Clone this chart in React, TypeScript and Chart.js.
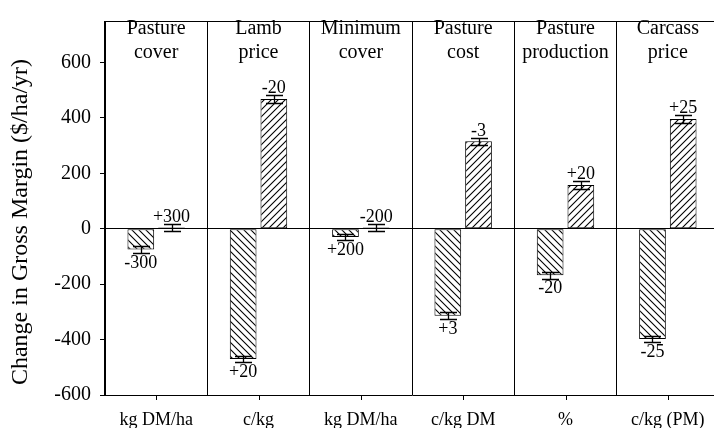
import React, { useEffect, useRef } from "react";
import { Chart, registerables } from "chart.js";
Chart.register(...registerables);

const categories = ["kg DM/ha", "c/kg", "kg DM/ha", "c/kg DM", "%", "c/kg (PM)"];
const panelTitles = [
  ["Pasture", "cover"],
  ["Lamb", "price"],
  ["Minimum", "cover"],
  ["Pasture", "cost"],
  ["Pasture", "production"],
  ["Carcass", "price"],
];
const lowValues = [-75, -470, -30, -314, -168, -398];
const highValues = [5, 468, 5, 316, 158, 396];
const lowErrors = [13, 12, 12, 12, 12, 12];
const highErrors = [12, 14, 12, 13, 13, 13];
const lowLabels = ["-300", "+20", "+200", "+3", "-20", "-25"];
const highLabels = ["+300", "-20", "-200", "-3", "+20", "+25"];
const yTickValues = [-600, -400, -200, 0, 200, 400, 600];
const yMin = -600;
const yMax = 750;
const yTitle = "Change in Gross Margin ($/ha/yr)";

const FONT = "'Liberation Serif', 'Times New Roman', serif";

function makeHatch(dir: string, ctx: CanvasRenderingContext2D) {
  const s = 7;
  const c = document.createElement("canvas");
  c.width = s;
  c.height = s;
  const g = c.getContext("2d")!;
  g.fillStyle = "#fff";
  g.fillRect(0, 0, s, s);
  g.strokeStyle = "#000";
  g.lineWidth = 1.1;
  g.beginPath();
  if (dir === "/") {
    g.moveTo(0, s); g.lineTo(s, 0);
    g.moveTo(-1, 1); g.lineTo(1, -1);
    g.moveTo(s - 1, s + 1); g.lineTo(s + 1, s - 1);
  } else {
    g.moveTo(0, 0); g.lineTo(s, s);
    g.moveTo(-1, s - 1); g.lineTo(1, s + 1);
    g.moveTo(s - 1, -1); g.lineTo(s + 1, 1);
  }
  g.stroke();
  return ctx.createPattern(c, "repeat")!;
}

const overlayPlugin = {
  id: "overlay",
  afterDatasetsDraw(chart: any) {
    const { ctx, chartArea, scales } = chart;
    const y = scales.y;
    const x = scales.x;
    ctx.save();
    ctx.strokeStyle = "#000";
    ctx.fillStyle = "#000";
    ctx.lineWidth = 1;
    // top frame line
    ctx.beginPath();
    ctx.moveTo(chartArea.left, chartArea.top + 0.5);
    ctx.lineTo(chartArea.right, chartArea.top + 0.5);
    ctx.stroke();
    // category center ticks
    for (let i = 0; i < categories.length; i++) {
      const cx = Math.round(x.getPixelForValue(i)) + 0.5;
      ctx.beginPath();
      ctx.moveTo(cx, chartArea.bottom);
      ctx.lineTo(cx, chartArea.bottom + 5);
      ctx.stroke();
    }
    // panel titles
    ctx.font = `20px ${FONT}`;
    ctx.textAlign = "center";
    ctx.textBaseline = "alphabetic";
    panelTitles.forEach((lines, i) => {
      const cx = x.getPixelForValue(i);
      lines.forEach((t, k) => ctx.fillText(t, cx, 34 + k * 23.5));
    });
    // error bars and value labels
    const sets = [
      { vals: lowValues, errs: lowErrors, labels: lowLabels },
      { vals: highValues, errs: highErrors, labels: highLabels },
    ];
    ctx.font = `18px ${FONT}`;
    sets.forEach((s, di) => {
      const meta = chart.getDatasetMeta(di);
      meta.data.forEach((el: any, j: number) => {
        const bx = Math.round(el.x) + 0.5;
        const v = s.vals[j];
        const e = s.errs[j];
        const yTop = y.getPixelForValue(v + e);
        const yBot = y.getPixelForValue(v - e);
        ctx.beginPath();
        ctx.moveTo(bx, yTop);
        ctx.lineTo(bx, yBot);
        ctx.moveTo(bx - 8.5, Math.round(yTop) + 0.5);
        ctx.lineTo(bx + 8.5, Math.round(yTop) + 0.5);
        ctx.moveTo(bx - 8.5, Math.round(yBot) + 0.5);
        ctx.lineTo(bx + 8.5, Math.round(yBot) + 0.5);
        ctx.lineWidth = 1.3;
        ctx.stroke();
        if (v >= 0) {
          ctx.textBaseline = "alphabetic";
          ctx.fillText(s.labels[j], el.x, yTop - 2);
        } else {
          ctx.textBaseline = "top";
          ctx.fillText(s.labels[j], el.x, yBot + 1);
        }
      });
    });
    // y title
    ctx.save();
    ctx.translate(21, 222);
    ctx.rotate(-Math.PI / 2);
    ctx.font = `24px ${FONT}`;
    ctx.textAlign = "center";
    ctx.textBaseline = "middle";
    ctx.fillText(yTitle, 0, 0);
    ctx.restore();
    ctx.restore();
  },
};

export default function App() {
  const ref = useRef<HTMLCanvasElement | null>(null);
  useEffect(() => {
    const canvas = ref.current!;
    const ctx = canvas.getContext("2d")!;
    Chart.defaults.color = "#000";
    const chart = new Chart(ctx, {
      type: "bar",
      data: {
        labels: categories,
        datasets: [
          {
            data: lowValues,
            backgroundColor: makeHatch("\\", ctx),
            borderColor: "#000",
            borderWidth: 1,
            borderSkipped: false,
            categoryPercentage: 0.6,
            barPercentage: 0.87,
          },
          {
            data: highValues,
            backgroundColor: makeHatch("/", ctx),
            borderColor: "#000",
            borderWidth: 1,
            borderSkipped: false,
            categoryPercentage: 0.6,
            barPercentage: 0.87,
          },
        ],
      },
      options: {
        responsive: false,
        animation: false,
        devicePixelRatio: 1,
        layout: { padding: { top: 11, right: 1, left: 0, bottom: 0 } },
        plugins: { legend: { display: false }, tooltip: { enabled: false }, title: { display: false } },
        scales: {
          x: {
            type: "category",
            offset: true,
            grid: { display: true, offset: true, color: "#000", lineWidth: 1, drawTicks: false },
            border: { display: true, color: "#000", width: 1 },
            ticks: { font: { family: FONT, size: 18 }, color: "#000", padding: 14, maxRotation: 0, autoSkip: false },
            afterFit: (s: any) => { s.height = 33; },
          },
          y: {
            type: "linear",
            min: yMin,
            max: yMax,
            afterBuildTicks: (s: any) => {
              s.ticks = yTickValues.map((v) => ({ value: v }));
            },
            grid: {
              color: (c: any) => (c.tick && c.tick.value === 0 ? "#000" : "rgba(0,0,0,0)"),
              tickColor: "#000",
              tickLength: 5,
              drawTicks: true,
            },
            border: { display: true, color: "#000", width: 1 },
            ticks: { font: { family: FONT, size: 20 }, color: "#000", padding: 9 },
            afterFit: (s: any) => { s.width = 105; },
          },
        },
      },
      plugins: [overlayPlugin],
    });
    return () => chart.destroy();
  }, []);
  return (
    <div style={{ position: "fixed", left: 0, top: 0, width: 714, height: 428, overflow: "hidden", background: "#fff" }}>
      <canvas ref={ref} width={720} height={428} style={{ display: "block" }} />
    </div>
  );
}
